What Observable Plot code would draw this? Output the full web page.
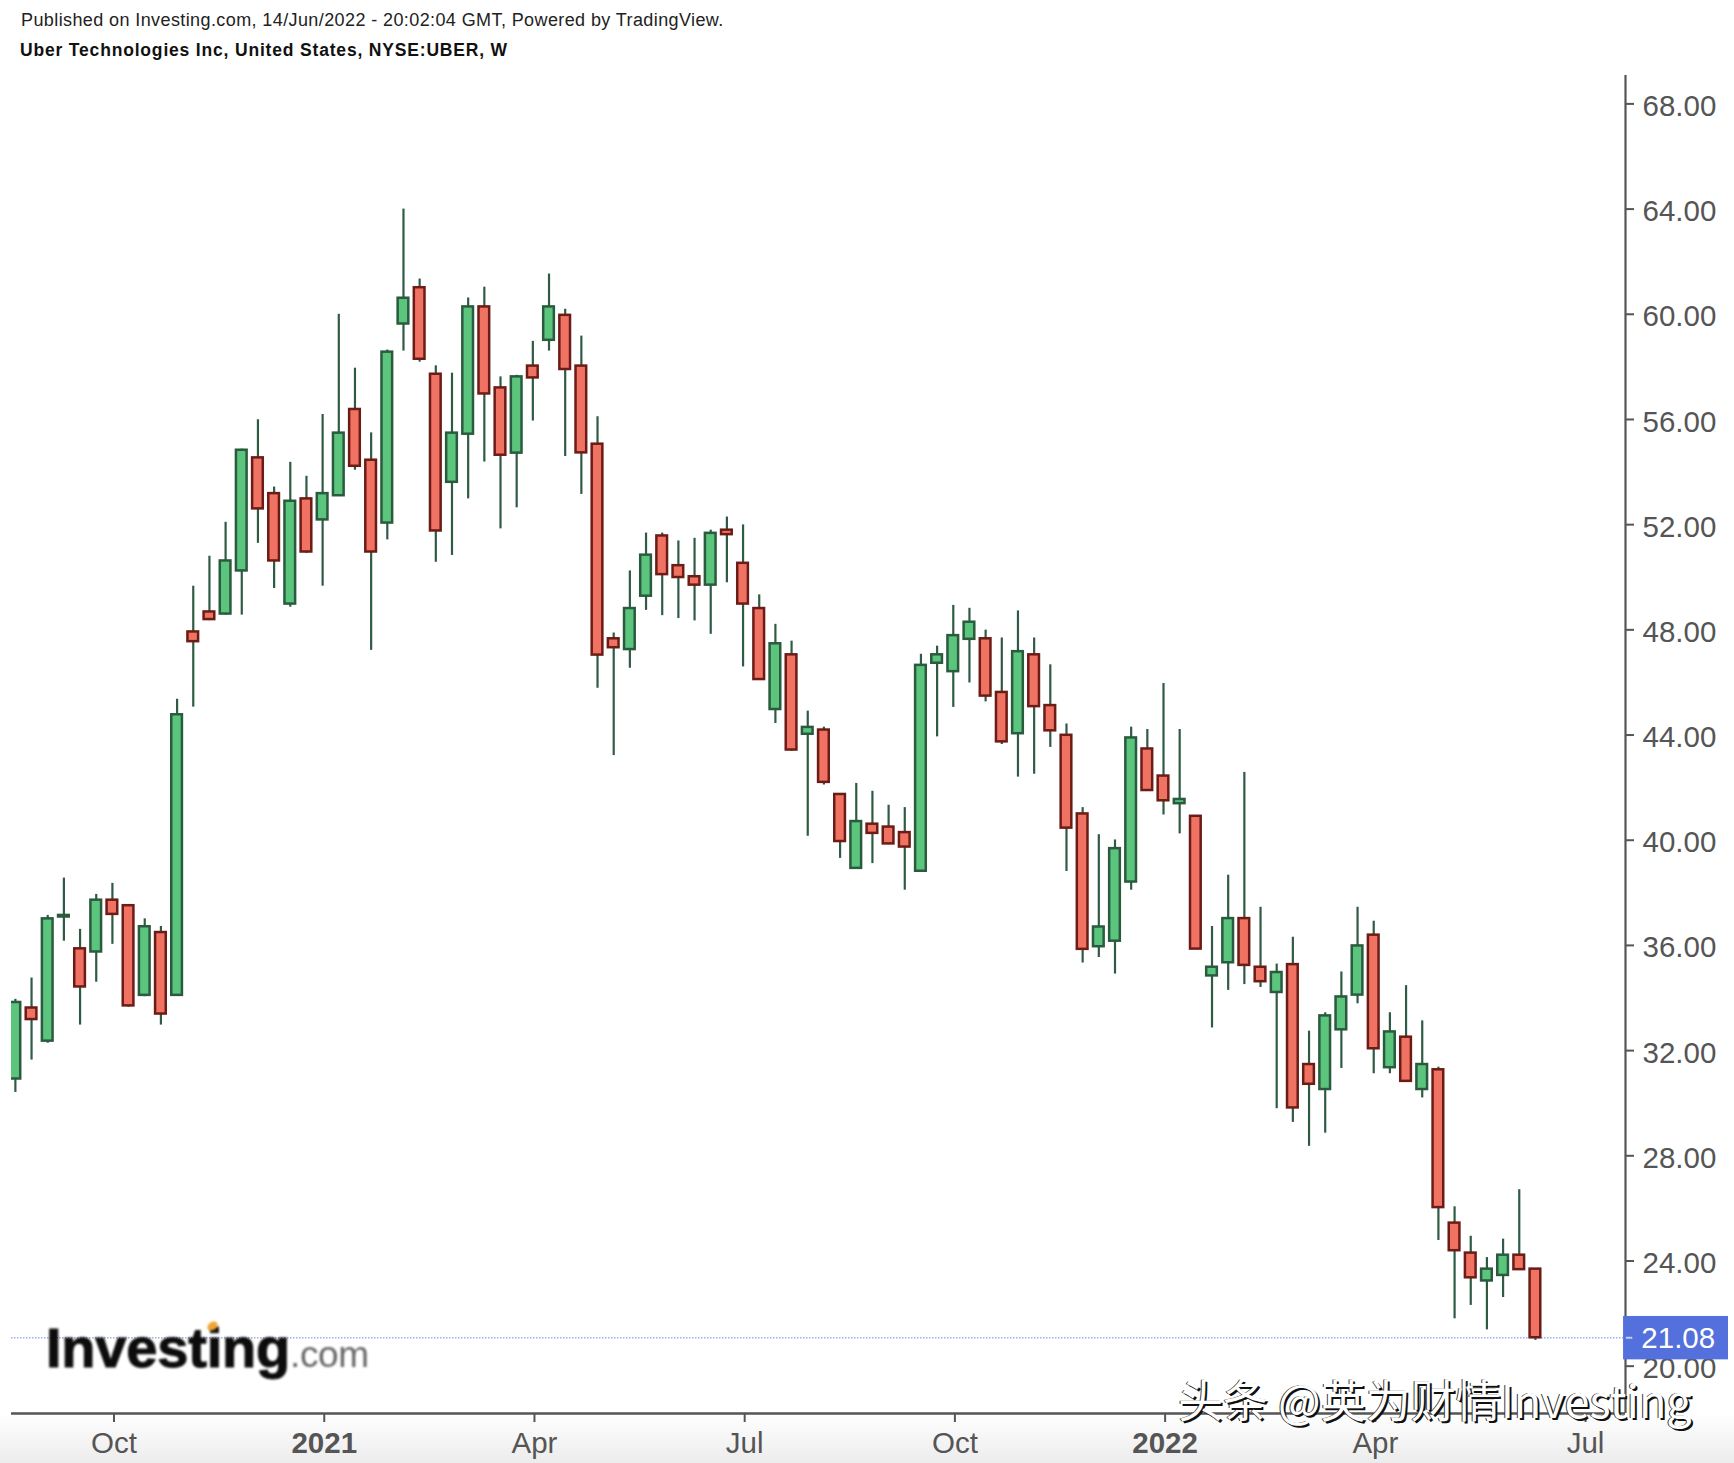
<!DOCTYPE html>
<html>
<head>
<meta charset="utf-8">
<script src="https://cdn.jsdelivr.net/npm/d3@7"></script>
<script src="https://cdn.jsdelivr.net/npm/@observablehq/plot@0.6"></script>
<style>
html,body{margin:0;padding:0;background:#fff;}
body{width:1734px;height:1463px;position:relative;overflow:hidden;font-family:"Liberation Sans",Arial,sans-serif;}
#band{position:absolute;left:0;top:1413px;width:1734px;height:50px;background:linear-gradient(#fff,#ececec);}
#head{position:relative;height:72px;color:#222;}
#pub{position:absolute;left:21px;top:10px;font-size:18px;line-height:20px;letter-spacing:.4px;white-space:nowrap;}
#sym{position:absolute;left:20px;top:40px;font-size:17.5px;line-height:20px;font-weight:bold;letter-spacing:.82px;color:#111;white-space:nowrap;}
#chart{position:relative;}
#chart svg{display:block;background:transparent;}
#logo{position:absolute;left:46px;top:1320px;font-size:56px;line-height:1;font-weight:bold;color:#0c0c0c;letter-spacing:-.2px;-webkit-text-stroke:1px #0c0c0c;filter:blur(1px);white-space:nowrap;}
#logo span{font-size:37px;font-weight:normal;color:#666;letter-spacing:-.4px;-webkit-text-stroke:0;}
#dot{position:absolute;left:207px;top:1322px;width:11px;height:8px;border-radius:50%;background:#f2a32e;transform:rotate(-35deg);filter:blur(1px);}
#mark{position:absolute;left:1178px;top:1369px;font-family:"Noto Sans CJK SC","Noto Sans",sans-serif;font-size:45px;line-height:60px;color:#fff;text-shadow:2px 2px 0 #111,-1px 0 0 #333;white-space:nowrap;}
</style>
</head>
<body>
<div id="band"></div>
<div id="head">
<div id="pub">Published on Investing.com, 14/Jun/2022 - 20:02:04 GMT, Powered by TradingView.</div>
<div id="sym">Uber Technologies Inc, United States, NYSE:UBER, W</div>
</div>
<div id="chart"></div>
<div id="logo">Investing<span>.com</span></div>
<div id="dot"></div>
<div id="mark">头条 @英为财情Investing</div>
<script>
const opens = [30.92,33.62,32.36,37.08,35.87,35.75,37.72,37.51,34.10,36.49,34.10,47.92,48.68,48.60,50.24,54.54,53.18,48.98,52.98,52.18,53.10,56.38,54.45,52.06,59.63,61.01,57.72,53.61,55.44,60.28,57.20,54.72,58.03,59.01,59.96,58.03,55.06,47.66,47.25,49.28,51.57,50.44,50.02,49.70,51.79,50.53,48.81,44.97,47.05,44.03,44.19,41.74,38.93,40.61,40.50,40.29,38.82,46.73,46.41,47.64,47.66,45.62,44.05,47.05,45.12,43.99,41.00,35.95,36.16,38.41,43.47,42.44,41.39,40.91,34.84,35.34,37.02,35.17,34.21,35.27,31.47,30.52,32.79,34.11,36.39,31.35,32.51,30.52,31.27,25.44,24.30,23.24,23.45,24.22,23.69];
const closes = [33.83,33.18,37.01,37.14,34.42,37.72,37.18,33.70,36.71,33.39,44.77,47.55,48.39,50.62,54.83,52.60,50.62,52.89,50.96,53.18,55.48,54.22,50.96,58.56,60.61,58.29,51.76,55.48,60.28,56.97,54.64,57.62,57.58,60.28,57.90,54.73,47.04,47.32,48.81,50.84,50.10,49.99,49.70,51.67,51.62,48.98,46.11,47.47,43.43,44.29,42.20,39.95,40.71,40.26,39.86,39.74,46.65,47.05,47.78,48.29,45.48,43.74,47.17,45.08,44.16,40.46,35.85,36.70,39.68,43.89,41.89,41.50,41.55,35.86,35.17,37.02,35.24,34.62,34.97,29.82,30.72,33.32,34.04,35.98,32.07,32.71,30.83,31.47,26.03,24.39,23.36,23.69,24.22,23.67,21.08];
const highs = [33.95,34.76,37.14,38.56,36.61,37.94,38.36,37.54,37.01,36.72,45.36,49.66,50.80,52.09,54.87,55.99,53.43,54.37,53.84,56.19,60.00,57.95,55.49,58.64,64.00,61.34,58.04,57.76,60.62,61.03,57.62,57.68,58.97,61.53,60.19,59.17,56.10,47.88,50.24,51.68,51.68,51.38,51.48,51.79,52.29,51.99,49.33,48.21,47.57,44.91,44.30,41.77,42.16,41.86,41.33,41.24,47.07,47.38,48.93,48.82,47.99,47.69,48.72,47.69,46.67,44.42,41.24,40.21,40.01,44.30,44.21,45.96,44.21,40.91,36.72,38.67,42.58,37.45,35.29,36.31,32.74,33.44,34.99,37.45,36.92,33.44,34.47,33.13,31.37,26.06,24.94,24.13,24.83,26.71,23.71];
const lows = [30.41,31.64,32.28,36.16,32.97,34.60,36.04,33.65,34.05,32.97,34.10,45.06,48.35,48.56,48.56,51.29,49.57,48.86,50.91,49.66,53.07,54.07,47.22,51.42,58.60,58.18,50.57,50.83,52.98,54.38,51.84,52.64,55.94,58.60,54.59,53.15,45.78,43.22,46.54,48.74,48.54,48.43,48.34,47.83,49.79,46.59,46.08,44.44,43.38,40.15,42.10,39.31,38.91,39.11,39.83,38.10,38.81,43.93,45.05,45.98,45.26,43.64,42.40,42.51,43.53,38.81,35.33,35.54,34.91,38.10,41.88,40.96,40.24,35.87,32.86,34.29,34.51,34.40,29.79,29.27,28.36,28.86,31.32,33.78,31.12,31.12,30.81,30.20,24.78,21.80,22.31,21.38,22.61,23.67,20.98];

const priceTicks = [20,24,28,32,36,40,44,48,52,56,60,64,68];
const monthTicks = [6.1,32.1,45.1,58.1,84.1,97.1];
const monthLabels = ["Oct","Apr","Jul","Oct","Apr","Jul"];
const yearTicks = [19.1,71.1];
const yearLabels = ["2021","2022"];
const lastPrice = 21.08;

const bars = opens.map((open,i)=>({i,open,close:closes[i],high:highs[i],low:lows[i],up:closes[i]>=open}));
const fontFamily = '"Liberation Sans",Arial,sans-serif';
const axisColor = "#555";
const xDomain = [-0.24,99.57];
const yDomain = [18.20,69.08];

const chart = Plot.plot({
  width:1734, height:1391,
  marginLeft:11, marginRight:109, marginTop:3, marginBottom:50,
  style:{fontFamily, background:"transparent"},
  x:{type:"linear",domain:xDomain},
  y:{type:"linear",domain:yDomain},
  marks:[
    Plot.ruleY([lastPrice],{stroke:"#9db0ea",strokeWidth:1.4,strokeDasharray:"1.5 1.5"}),
    Plot.ruleX(bars,{x:"i",y1:"low",y2:"high",stroke:"#2f5b45",strokeWidth:2.2,clip:true}),
    Plot.rect(bars,{
      x1:d=>d.i-0.33,x2:d=>d.i+0.33,
      y1:d=>Math.min(d.open,d.close),y2:d=>Math.max(d.open,d.close),
      fill:d=>d.up?"#5bc47d":"#f07262",
      stroke:d=>d.up?"#2a5b3e":"#6c1c16",
      strokeWidth:2.5,clip:true
    }),
    Plot.ruleX([xDomain[1]],{stroke:axisColor,strokeWidth:2.2}),
    Plot.ruleY([yDomain[0]],{stroke:axisColor,strokeWidth:2.6}),
    Plot.axisY({anchor:"right",ticks:priceTicks,tickFormat:()=>null,tickSize:8,stroke:axisColor,strokeWidth:2,label:null}),
    Plot.axisY({anchor:"right",ticks:priceTicks,tickFormat:d=>d.toFixed(2),tickSize:0,tickPadding:17,dy:2.6,fontSize:29.5,fill:axisColor,label:null,textAnchor:"start"}),
    Plot.axisX({anchor:"bottom",ticks:monthTicks,tickFormat:d=>monthLabels[monthTicks.indexOf(d)],tickSize:9,tickPadding:10,fontSize:29.5,stroke:axisColor,fill:axisColor,strokeWidth:2,label:null}),
    Plot.axisX({anchor:"bottom",ticks:yearTicks,tickFormat:d=>yearLabels[yearTicks.indexOf(d)],tickSize:9,tickPadding:10,fontSize:29.5,fontWeight:"bold",stroke:axisColor,fill:axisColor,strokeWidth:2,label:null}),
    Plot.rect([lastPrice],{x1:99.45,x2:105.94,y1:21.89,y2:20.24,fill:"#5470dc"}),
    Plot.ruleY([lastPrice],{x1:xDomain[1]+0.05,x2:xDomain[1]+0.45,stroke:"#c3cff2",strokeWidth:2}),
    Plot.text([lastPrice],{x:100.55,y:d=>d,dy:1,text:d=>d.toFixed(2),fill:"#fff",fontSize:29.5,textAnchor:"start"})
  ]
});
document.getElementById("chart").appendChild(chart);
</script>
</body>
</html>
